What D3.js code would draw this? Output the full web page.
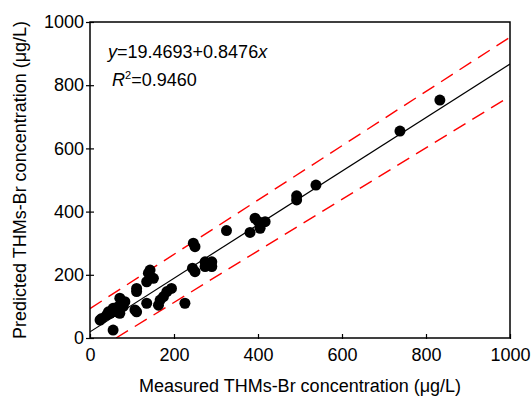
<!DOCTYPE html>
<html>
<head>
<meta charset="utf-8">
<script src="https://cdn.jsdelivr.net/npm/d3@7"></script>
<style>
  body { margin: 0; background: #fff; }
  text { font-family: "Liberation Sans", Arial, sans-serif; fill: #000; }
</style>
</head>
<body>
<div class="box"></div>
<script>
// measured vs predicted (ug/L)
var measured = [833, 738, 538, 492, 492, 417, 401, 393, 405, 381, 325,
  246, 250, 244, 250, 274, 290, 274, 290, 282, 226,
  143, 139, 151, 135, 111, 111, 194, 183, 175, 167, 163, 135, 111, 107,
  71, 83, 67, 55, 63, 44, 40, 28, 24, 55, 48, 71, 79];
var predicted = [753, 655, 484, 450, 437, 368, 368, 379, 347, 334, 340,
  300, 289, 221, 210, 241, 241, 226, 226, 236, 110,
  215, 205, 189, 178, 157, 147, 157, 147, 131, 120, 104, 110, 83, 89,
  126, 115, 99, 94, 83, 83, 73, 62, 57, 25, 78, 78, 100];

var fitLine = [[0, 19.4693], [1000, 867.2293]];
var upperBand = [[0, 93], [1000, 952]];
var lowerBand = [[62, 0], [1000, 765]];

var xTicks = [0, 200, 400, 600, 800, 1000];
var yTicks = [0, 200, 400, 600, 800, 1000];

var width = 531, height = 401;
var margin = {left: 90, right: 21, top: 22, bottom: 63};

var svg = d3.select(".box").append("svg")
    .attr("width", width)
    .attr("height", height);

var x = d3.scaleLinear().domain([0, 1000]).range([margin.left, width - margin.right]);
var y = d3.scaleLinear().domain([0, 1000]).range([height - margin.bottom, margin.top]);

svg.append("defs").append("clipPath").attr("id", "clip")
  .append("rect")
  .attr("x", x(0)).attr("y", y(1000))
  .attr("width", x(1000) - x(0)).attr("height", y(0) - y(1000));

var line = d3.line().x(function(d) { return x(d[0]); }).y(function(d) { return y(d[1]); });

var plot = svg.append("g").attr("clip-path", "url(#clip)");

// confidence bands
plot.selectAll(".band")
  .data([upperBand, lowerBand])
  .enter().append("path")
  .attr("d", line)
  .style("fill", "none")
  .style("stroke", "#ff0000")
  .style("stroke-width", 1.4)
  .style("stroke-dasharray", "14,8");

plot.append("path")
  .attr("d", line(fitLine))
  .style("fill", "none")
  .style("stroke", "#000")
  .style("stroke-width", 1.2);

plot.selectAll("circle")
  .data(measured)
  .enter().append("circle")
  .attr("cx", function(d) { return x(d); })
  .attr("cy", function(d, i) { return y(predicted[i]); })
  .attr("r", 5.5)
  .style("fill", "#000");

// axes
var fmt = d3.format("d");
var xAxis = svg.append("g")
  .attr("transform", "translate(0," + y(0) + ")")
  .call(d3.axisBottom(x).tickValues(xTicks).tickFormat(fmt).tickSize(0).tickPadding(10));
xAxis.select(".domain").remove();
xAxis.selectAll(".tick").append("line").attr("y1", -4).attr("y2", 1).attr("stroke", "#000").attr("stroke-width", 1.2);
xAxis.selectAll("text").style("font-size", "18px").attr("dy", "0.71em");

var yAxis = svg.append("g")
  .attr("transform", "translate(" + x(0) + ",0)")
  .call(d3.axisLeft(y).tickValues(yTicks).tickFormat(fmt).tickSize(0).tickPadding(6));
yAxis.select(".domain").remove();
yAxis.selectAll(".tick").append("line").attr("x1", -4).attr("x2", 4).attr("stroke", "#000").attr("stroke-width", 1.2);
yAxis.selectAll("text").style("font-size", "18px");

svg.append("rect")
  .attr("x", x(0)).attr("y", y(1000))
  .attr("width", x(1000) - x(0)).attr("height", y(0) - y(1000))
  .style("fill", "none")
  .style("stroke", "#000")
  .style("stroke-width", 1.5);

// titles
svg.append("text")
  .attr("x", (x(0) + x(1000)) / 2)
  .attr("y", 392)
  .attr("text-anchor", "middle")
  .style("font-size", "18px")
  .text("Measured THMs-Br concentration (\u03bcg/L)");

svg.append("text")
  .attr("transform", "translate(26," + (y(500)) + ") rotate(-90)")
  .attr("text-anchor", "middle")
  .style("font-size", "18px")
  .text("Predicted THMs-Br concentration (\u03bcg/L)");

var eq = svg.append("text").attr("x", 108).attr("y", 58).style("font-size", "18px");
eq.append("tspan").style("font-style", "italic").text("y");
eq.append("tspan").text("=19.4693+0.8476");
eq.append("tspan").style("font-style", "italic").text("x");

var r2 = svg.append("text").attr("x", 112).attr("y", 86).style("font-size", "18px");
r2.append("tspan").style("font-style", "italic").text("R");
r2.append("tspan").attr("dy", -7).style("font-size", "11px").text("2");
r2.append("tspan").attr("dy", 7).text("=0.9460");
</script>
</body>
</html>
